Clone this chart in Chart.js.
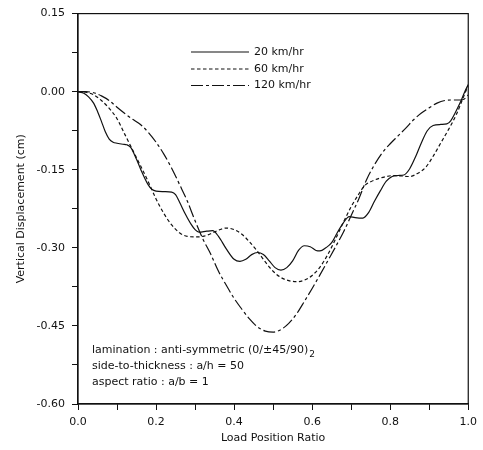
<!DOCTYPE html>
<html>
<head>
<meta charset="utf-8">
<script src="https://cdn.jsdelivr.net/npm/chart.js@4.4.1/dist/chart.umd.min.js"></script>
<style>
  html, body { margin: 0; padding: 0; background: #ffffff; }
  #wrap { width: 483px; height: 450px; position: relative; }
</style>
</head>
<body>
<div id="wrap"><canvas id="c" width="483" height="450"></canvas></div>
<script>
// ---- data ----
const seriesNames = ['20 km/hr', '60 km/hr', '120 km/hr'];

const x20 = [0, 0.015, 0.027, 0.04, 0.05, 0.06, 0.07, 0.08, 0.09, 0.10, 0.115, 0.125, 0.135, 0.15, 0.16, 0.18, 0.19, 0.20, 0.22, 0.24, 0.25, 0.26, 0.275, 0.29, 0.30, 0.31, 0.33, 0.345, 0.36, 0.38, 0.40, 0.415, 0.43, 0.445, 0.46, 0.475, 0.49, 0.505, 0.52, 0.535, 0.55, 0.565, 0.58, 0.595, 0.61, 0.62, 0.635, 0.65, 0.665, 0.68, 0.695, 0.71, 0.73, 0.745, 0.76, 0.775, 0.79, 0.805, 0.82, 0.835, 0.85, 0.865, 0.88, 0.895, 0.91, 0.93, 0.945, 0.955, 0.965, 0.98, 0.99, 1.0];
const y20 = [0, -0.003, -0.01, -0.022, -0.038, -0.057, -0.077, -0.091, -0.097, -0.099, -0.101, -0.102, -0.107, -0.13, -0.148, -0.179, -0.188, -0.191, -0.192, -0.193, -0.198, -0.212, -0.235, -0.255, -0.265, -0.27, -0.268, -0.267, -0.278, -0.302, -0.322, -0.326, -0.322, -0.313, -0.309, -0.313, -0.325, -0.338, -0.343, -0.338, -0.325, -0.305, -0.296, -0.298, -0.305, -0.306, -0.3, -0.29, -0.27, -0.252, -0.24, -0.242, -0.243, -0.232, -0.21, -0.19, -0.172, -0.163, -0.161, -0.16, -0.148, -0.125, -0.098, -0.075, -0.065, -0.063, -0.062, -0.056, -0.043, -0.02, -0.002, 0.014];

const x60 = [0, 0.02, 0.04, 0.06, 0.08, 0.10, 0.12, 0.14, 0.16, 0.18, 0.20, 0.22, 0.24, 0.26, 0.28, 0.30, 0.32, 0.34, 0.36, 0.38, 0.40, 0.42, 0.44, 0.46, 0.48, 0.50, 0.52, 0.54, 0.56, 0.58, 0.60, 0.62, 0.64, 0.66, 0.68, 0.70, 0.72, 0.735, 0.75, 0.77, 0.79, 0.81, 0.83, 0.85, 0.87, 0.89, 0.91, 0.93, 0.95, 0.97, 0.99, 1.0];
const y60 = [0, -0.001, -0.006, -0.017, -0.032, -0.052, -0.082, -0.112, -0.142, -0.173, -0.206, -0.234, -0.256, -0.271, -0.278, -0.279, -0.278, -0.273, -0.266, -0.262, -0.265, -0.274, -0.289, -0.307, -0.327, -0.345, -0.357, -0.363, -0.365, -0.362, -0.353, -0.337, -0.313, -0.283, -0.251, -0.221, -0.196, -0.18, -0.173, -0.167, -0.163, -0.161, -0.162, -0.163, -0.157, -0.146, -0.124, -0.098, -0.072, -0.043, -0.006, 0.012];

const x120 = [0, 0.02, 0.04, 0.06, 0.08, 0.10, 0.12, 0.14, 0.16, 0.18, 0.20, 0.22, 0.24, 0.26, 0.28, 0.30, 0.32, 0.34, 0.36, 0.38, 0.40, 0.42, 0.44, 0.46, 0.48, 0.50, 0.52, 0.54, 0.56, 0.58, 0.60, 0.62, 0.64, 0.66, 0.68, 0.70, 0.72, 0.74, 0.76, 0.78, 0.80, 0.82, 0.84, 0.86, 0.88, 0.90, 0.92, 0.94, 0.96, 0.98, 0.99, 1.0];
const y120 = [0, 0, -0.002, -0.008, -0.017, -0.03, -0.042, -0.053, -0.063, -0.078, -0.097, -0.12, -0.147, -0.178, -0.21, -0.248, -0.283, -0.312, -0.345, -0.372, -0.397, -0.418, -0.437, -0.452, -0.46, -0.462, -0.457, -0.445, -0.427, -0.403, -0.378, -0.352, -0.325, -0.298, -0.27, -0.238, -0.205, -0.168, -0.14, -0.117, -0.1, -0.085, -0.07, -0.054, -0.041, -0.031, -0.022, -0.017, -0.016, -0.016, -0.014, -0.006];

const xTicks = [0, 0.1, 0.2, 0.3, 0.4, 0.5, 0.6, 0.7, 0.8, 0.9, 1.0];
const xTickLabels = ['0.0', '', '0.2', '', '0.4', '', '0.6', '', '0.8', '', '1.0'];
const yTicks = [-0.6, -0.525, -0.45, -0.375, -0.3, -0.225, -0.15, -0.075, 0, 0.075, 0.15];
const yTickLabels = ['-0.60', '', '-0.45', '', '-0.30', '', '-0.15', '', '0.00', '', '0.15'];

const xTitle = 'Load Position Ratio';
const yTitle = 'Vertical Displacement (cm)';
const noteLines = ['lamination : anti-symmetric (0/\u00b145/90)', 'side-to-thickness : a/h = 50', 'aspect ratio : a/b = 1'];
const noteSub = '2';

// ---- chart ----
const FONT = 'DejaVu Sans';
const INK = '#111111';
function pts(xs, ys) { return xs.map((x, i) => ({ x: x, y: ys[i] })); }

const styles = [
  { borderDash: [] },
  { borderDash: [3.5, 2.5] },
  { borderDash: [12, 3, 3, 3] }
];
const allX = [x20, x60, x120];
const allY = [y20, y60, y120];

const datasets = seriesNames.map((n, i) => ({
  label: n,
  data: pts(allX[i], allY[i]),
  borderColor: INK,
  borderWidth: 1.2,
  borderDash: styles[i].borderDash,
  pointRadius: 0,
  fill: false,
  cubicInterpolationMode: 'monotone'
}));

const decor = {
  id: 'decor',
  afterDraw(chart) {
    const ctx = chart.ctx;
    const a = chart.chartArea;
    ctx.save();
    // frame
    ctx.strokeStyle = INK;
    ctx.lineWidth = 1.2;
    ctx.setLineDash([]);
    ctx.strokeRect(a.left, a.top, a.right - a.left, a.bottom - a.top);
    // legend
    ctx.font = '11px "' + FONT + '"';
    ctx.fillStyle = INK;
    ctx.textBaseline = 'middle';
    ctx.textAlign = 'left';
    const rows = [52, 69, 85.5];
    chart.data.datasets.forEach((ds, i) => {
      ctx.beginPath();
      ctx.setLineDash(ds.borderDash || []);
      ctx.lineWidth = 1.2;
      ctx.moveTo(191, rows[i]);
      ctx.lineTo(249, rows[i]);
      ctx.stroke();
      ctx.setLineDash([]);
      ctx.fillText(ds.label, 254, rows[i]);
    });
    // note
    const noteY = [350.5, 366.5, 382];
    noteLines.forEach((t, i) => ctx.fillText(t, 92, noteY[i]));
    const w = ctx.measureText(noteLines[0]).width;
    ctx.font = '9px "' + FONT + '"';
    ctx.fillText(noteSub, 92 + w + 1, noteY[0] + 4);
    ctx.restore();
  }
};

new Chart(document.getElementById('c'), {
  type: 'line',
  data: { datasets: datasets },
  options: {
    responsive: false,
    animation: false,
    devicePixelRatio: 1,
    layout: { padding: { top: 12, right: 12, left: 0, bottom: 0 } },
    plugins: { legend: { display: false }, tooltip: { enabled: false } },
    scales: {
      x: {
        type: 'linear',
        min: 0, max: 1,
        afterBuildTicks: s => { s.ticks = xTicks.map(v => ({ value: v })); },
        afterFit: s => { s.height = 46; },
        ticks: {
          callback: (v, i) => xTickLabels[i],
          color: INK, padding: 6, maxRotation: 0, autoSkip: false,
          font: { family: FONT, size: 11 }
        },
        grid: { display: true, drawOnChartArea: false, drawTicks: true, tickLength: 6, color: INK, lineWidth: 1 },
        border: { display: true, color: INK, width: 1.2 },
        title: { display: true, text: xTitle, color: INK, font: { family: FONT, size: 11 }, padding: { top: 0, bottom: 5 } }
      },
      y: {
        type: 'linear',
        min: -0.6, max: 0.15,
        afterBuildTicks: s => { s.ticks = yTicks.map(v => ({ value: v })); },
        afterFit: s => { s.width = 78; },
        ticks: {
          callback: (v, i) => yTickLabels[i],
          color: INK, padding: 7, autoSkip: false,
          font: { family: FONT, size: 11 }
        },
        grid: { display: true, drawOnChartArea: false, drawTicks: true, tickLength: 6, color: INK, lineWidth: 1 },
        border: { display: true, color: INK, width: 1.2 },
        title: { display: true, text: yTitle, color: INK, font: { family: FONT, size: 11 }, padding: { top: 15, bottom: 0 } }
      }
    }
  },
  plugins: [decor]
});
</script>
</body>
</html>
